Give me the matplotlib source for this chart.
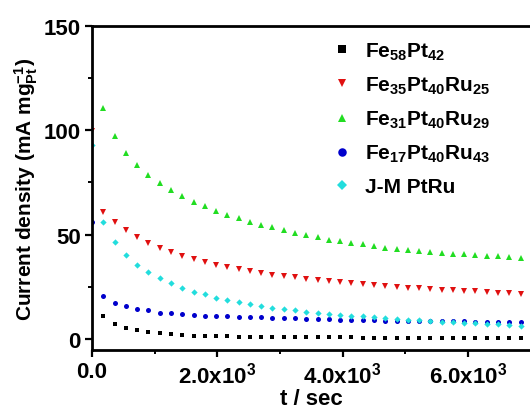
import numpy as np
import matplotlib
matplotlib.use("Agg")
import matplotlib.pyplot as plt

# time axis: one point every 180 s
t_step = 180
n_pts = 39  # k = 0 .. 38

fe58 = [None,
        10.9, 7.3, 5.4, 4.2, 3.4, 2.9, 2.3, 1.9, 1.6, 1.4,
        1.3, 1.2, 1.1, 1.0, 1.0, 0.9, 0.9, 0.8, 0.8, 0.8, 0.7, 0.7, 0.7, 0.6,
        0.6, 0.6, 0.6, 0.5, 0.5, 0.5, 0.5, 0.5, 0.5, 0.5, 0.4, 0.4, 0.4, 0.4]
fe35 = [99.8,
        60.7, 56.2, 52.2, 48.7, 45.8, 43.6, 41.5, 39.8, 38.3, 36.7,
        35.5, 34.5, 33.5, 32.6, 31.8, 30.8, 30.0, 29.6, 28.9, 28.3, 27.8, 27.3, 26.8, 26.4,
        25.9, 25.4, 24.9, 24.6, 24.3, 24.0, 23.6, 23.3, 23.1, 22.9, 22.5, 22.2, 22.0, 21.7]
fe31 = [None,
        110.5, 97.1, 89.1, 83.2, 78.7, 74.7, 71.4, 68.5, 65.8, 63.6,
        61.3, 59.6, 57.8, 56.2, 54.8, 53.5, 52.2, 50.9, 49.8, 48.7, 47.6, 46.8, 46.0, 45.4,
        44.4, 43.7, 43.3, 42.5, 42.0, 41.7, 41.2, 40.9, 40.6, 40.2, 39.9, 39.6, 39.1, 38.8]
fe17 = [56.2,
        20.5, 17.1, 16.0, 14.5, 13.7, 12.6, 12.5, 11.8, 11.5, 11.2,
        11.0, 10.9, 10.7, 10.5, 10.4, 10.2, 10.0, 9.9, 9.7, 9.5, 9.4, 9.2, 9.1, 9.0,
        8.9, 8.8, 8.8, 8.6, 8.6, 8.5, 8.5, 8.5, 8.4, 8.3, 8.3, 8.2, 8.1, 8.1]
jm_ptru = [93.0,
           56.2, 46.3, 40.1, 35.6, 32.1, 29.1, 26.8, 24.4, 22.7, 21.4,
           19.8, 18.7, 17.7, 16.6, 15.8, 15.0, 14.2, 13.8, 13.1, 12.6, 12.1, 11.5, 11.2, 10.9,
           10.5, 9.9, 9.6, 9.2, 9.0, 8.6, 8.3, 8.0, 7.7, 7.5, 7.2, 7.0, 6.7, 6.4]

labels = ["Fe$_{58}$Pt$_{42}$", "Fe$_{35}$Pt$_{40}$Ru$_{25}$", "Fe$_{31}$Pt$_{40}$Ru$_{29}$",
          "Fe$_{17}$Pt$_{40}$Ru$_{43}$", "J-M PtRu"]
xticks = [0, 2000, 4000, 6000]
xticklabels = ["0.0", "2.0x10$^3$", "4.0x10$^3$", "6.0x10$^3$"]
yticks = [0, 50, 100, 150]


def draw():
	plt.rcParams['font.family'] = 'Liberation Sans'
	plt.rcParams['font.weight'] = 'bold'
	plt.rcParams['mathtext.fontset'] = 'custom'
	plt.rcParams['mathtext.rm'] = 'Liberation Sans:bold'
	plt.rcParams['mathtext.it'] = 'Liberation Sans:bold'
	plt.rcParams['mathtext.bf'] = 'Liberation Sans:bold'
	plt.rcParams['mathtext.default'] = 'rm'

	fig = plt.figure(figsize=(5.3, 4.14), dpi=100)
	ax = fig.add_axes([92/530., 63/414., 1 - 92/530., 324/414.])

	t = np.arange(n_pts) * t_step
	series = [fe58, fe35, fe31, fe17, jm_ptru]
	markers = ['s', 'v', '^', 'o', 'D']
	colors = ['black', '#e01010', '#22dd22', '#0000cc', '#22dddd']
	sizes = [3.2, 3.8, 3.8, 3.6, 3.2]

	for vals, m, c, s, lab in zip(series, markers, colors, sizes, labels):
		y = np.array([np.nan if v is None else v for v in vals])
		ax.plot(t, y, linestyle='none', marker=m, color=c, markersize=s,
			markeredgewidth=0, label=lab)

	ax.set_xlim(0, 6990)
	ax.set_ylim(-5.3, 150)
	ax.set_xticks(xticks)
	ax.set_xticklabels(xticklabels)
	ax.set_xticks([1000, 3000, 5000], minor=True)
	ax.set_yticks(yticks)
	ax.set_yticks([25, 75, 125], minor=True)

	for sp in ax.spines.values():
		sp.set_linewidth(2)
	ax.spines['right'].set_visible(False)
	ax.tick_params(which='major', direction='out', length=5, width=1.6,
		labelsize=16, pad=3, right=False, top=False)
	ax.tick_params(which='minor', direction='out', length=3, width=1.4,
		right=False, top=False)

	ax.set_xlabel("t / sec", fontsize=16, fontweight='bold', labelpad=1)
	ax.set_ylabel("Current density (mA mg$_{Pt}^{-1}$)", fontsize=15,
		fontweight='bold', labelpad=3)

	legend = ax.legend(loc='upper left', bbox_to_anchor=(321/530., 1 - 31/414.),
		bbox_transform=fig.transFigure, frameon=False, fontsize=15,
		markerscale=1.7, handlelength=1.0, handletextpad=0.6, labelspacing=0.62,
		borderpad=0)

	plt.savefig("out.png", dpi=100)


def main():
	draw()


if __name__ == "__main__":
	main()
